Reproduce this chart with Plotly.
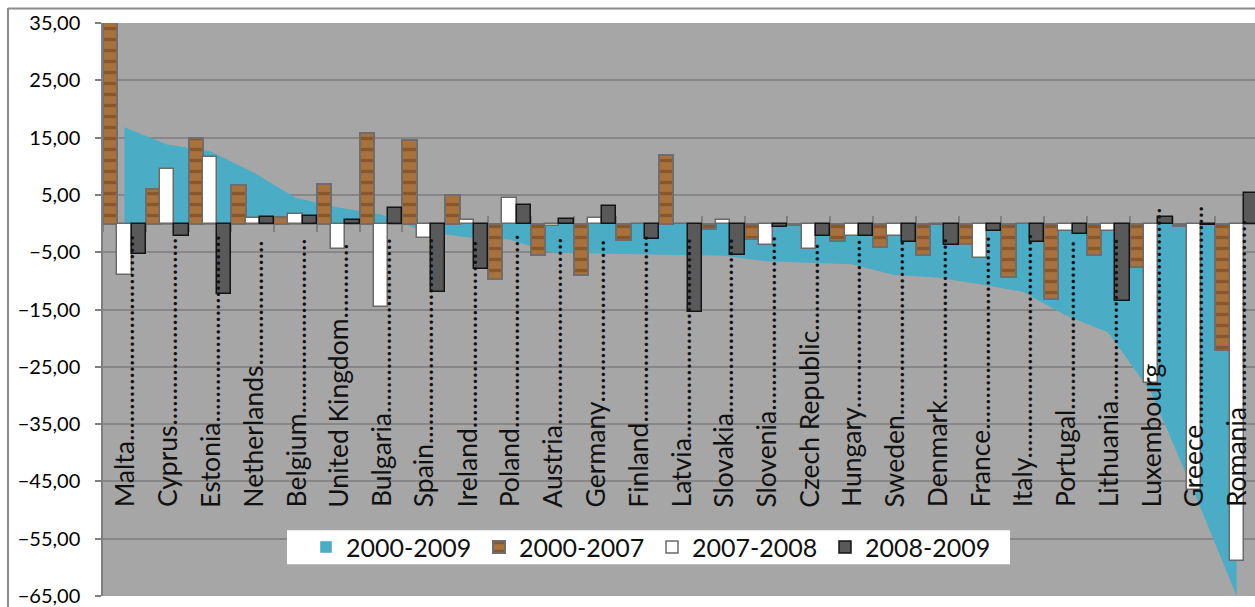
import plotly.graph_objects as go

# EU member states, ordered by the 2000-2009 change
countries = ["Malta", "Cyprus", "Estonia", "Netherlands", "Belgium", "United Kingdom",
             "Bulgaria", "Spain", "Ireland", "Poland", "Austria", "Germany", "Finland",
             "Latvia", "Slovakia", "Slovenia", "Czech Republic", "Hungary", "Sweden",
             "Denmark", "France", "Italy", "Portugal", "Lithuania", "Luxembourg",
             "Greece", "Romania"]

chg_2000_2009 = [16.8, 13.8, 12.6, 9.0, 4.5, 2.8, 1.6, -1.4, -2.4, -2.8, -5.1, -5.2, -5.3,
                 -5.45, -5.6, -6.6, -6.9, -7.1, -9.0, -9.4, -10.6, -11.9, -16.0, -19.0,
                 -29.5, -46.8, -65.0]
chg_2000_2007 = [37.5, 6.1, 14.9, 6.7, 1.1, 6.9, 15.8, 14.5, 4.9, -9.7, -5.45, -9.0, -2.8,
                 11.9, -1.0, -2.7, -0.3, -3.0, -4.1, -5.45, -3.55, -9.3, -13.2, -5.45,
                 -7.6, -0.4, -22.0]
chg_2007_2008 = [-8.9, 9.6, 11.6, 1.0, 1.6, -4.5, -14.5, -2.5, 0.65, 4.4, -0.5, 0.95, -0.1,
                 0.0, 0.65, -3.7, -4.5, -2.2, -2.2, -0.3, -6.0, 0.0, -1.25, -1.35, -27.8,
                 -46.5, -58.9]
chg_2008_2009 = [-5.3, -2.1, -12.3, 1.2, 1.3, 0.6, 2.8, -11.9, -7.9, 3.2, 0.8, 3.1, -2.7,
                 -15.4, -5.45, -0.55, -2.1, -2.1, -3.3, -3.8, -1.35, -3.15, -1.8, -13.5,
                 1.2, -0.2, 5.3]

y_ticks = [35, 25, 15, 5, -5, -15, -25, -35, -45, -55, -65]
series_names = ["2000-2009", "2000-2007", "2007-2008", "2008-2009"]

# ---- layout constants -------------------------------------------------------
W, H = 1255, 607
ML, MR, MT, MB = 103, 0, 23, 8
PW, PH = W - ML - MR, H - MT - MB
CAT_PX = 42.78                      # width of one category slot in pixels
X_RANGE = [-0.5, -0.5 + PW / CAT_PX]
Y_RANGE = [-65, 35]
FONT = "Lato, 'Open Sans', sans-serif"
TEAL = "#4BACC6"
GRID = "#878787"

pos = list(range(len(countries)))


def px_x(px):
    return (px - ML) / PW


def px_y(py):
    return (H - MB - py) / PH


def y_val(py):
    return Y_RANGE[1] - (py - MT) / PH * (Y_RANGE[1] - Y_RANGE[0])


# approximate Lato advance widths (em) used to pad labels with leader dots
LATO_EM = {
    'M': 0.87, 'C': 0.66, 'E': 0.56, 'N': 0.75, 'B': 0.63, 'U': 0.72, 'K': 0.66,
    'S': 0.54, 'I': 0.28, 'P': 0.60, 'A': 0.68, 'G': 0.72, 'F': 0.54, 'L': 0.50,
    'R': 0.62, 'H': 0.75, 'D': 0.74,
    'a': 0.50, 'b': 0.56, 'c': 0.46, 'd': 0.56, 'e': 0.53, 'g': 0.51, 'h': 0.56,
    'i': 0.24, 'k': 0.51, 'l': 0.24, 'm': 0.85, 'n': 0.56, 'o': 0.56, 'p': 0.56,
    'r': 0.37, 's': 0.43, 't': 0.35, 'u': 0.56, 'v': 0.50, 'w': 0.77, 'x': 0.49,
    'y': 0.50, 'z': 0.45, ' ': 0.19, '.': 0.22,
}
LABEL_SIZE = 26.5


def dotted(name, length_px):
    w = sum(LATO_EM.get(c, 0.55) for c in name) * LABEL_SIZE
    n = max(0, round((length_px - w) / (LATO_EM['.'] * LABEL_SIZE)))
    return name + "." * n


fig = go.Figure()

# area series on the base subplot so the bars are painted over it
fig.add_trace(go.Scatter(
    x=pos, y=chg_2000_2009, name=series_names[0], mode="lines",
    line=dict(width=0, color=TEAL), fill="tozeroy", fillcolor=TEAL,
    showlegend=False, hoverinfo="skip", xaxis="x", yaxis="y"))
# legend swatch for the area series
fig.add_trace(go.Bar(
    x=[None], y=[None], name=series_names[0], marker=dict(color=TEAL),
    xaxis="x", yaxis="y"))

fig.add_trace(go.Bar(
    x=pos, y=chg_2000_2007, name=series_names[1], xaxis="x2", yaxis="y",
    marker=dict(color="#A5692F", line=dict(color="#6E6E6E", width=2),
                pattern=dict(shape="-", fgcolor="#6A3D16", bgcolor="#A9713C",
                             size=11, solidity=0.3))))
fig.add_trace(go.Bar(
    x=pos, y=chg_2007_2008, name=series_names[2], xaxis="x2", yaxis="y",
    marker=dict(color="#FFFFFF", line=dict(color="#6A6A6A", width=1.5))))
fig.add_trace(go.Bar(
    x=pos, y=chg_2008_2009, name=series_names[3], xaxis="x2", yaxis="y",
    marker=dict(color="#595959", line=dict(color="#141414", width=1.5))))

# category labels with dotted leaders, reading bottom to top
label_bottom = y_val(512)
leader_end_px = {"Luxembourg": 223, "Greece": 225, "Romania": 233}
annotations = []
for i, name in enumerate(countries):
    top_px = leader_end_px.get(name, 254)
    annotations.append(dict(
        x=i, y=label_bottom, xref="x", yref="y", text=dotted(name, 512 - top_px),
        textangle=-90, showarrow=False, xanchor="center", yanchor="bottom",
        font=dict(family=FONT, size=LABEL_SIZE, color="#111111")))

zero_pos = (0 - Y_RANGE[0]) / (Y_RANGE[1] - Y_RANGE[0])
boundaries = [i + 0.5 for i in range(-1, len(countries))]

shapes = [
    # white panel behind the legend
    dict(type="rect", xref="paper", yref="paper", x0=px_x(287), x1=px_x(1010),
         y0=px_y(567), y1=px_y(533), fillcolor="white", line=dict(width=0),
         layer="above"),
    # chart frame
    dict(type="line", xref="paper", yref="paper", x0=px_x(8), x1=px_x(8),
         y0=px_y(8), y1=px_y(H + 5), line=dict(color="#8C8C8C", width=2)),
    dict(type="line", xref="paper", yref="paper", x0=px_x(8), x1=px_x(W + 5),
         y0=px_y(8.5), y1=px_y(8.5), line=dict(color="#8C8C8C", width=2)),
]

fig.update_layout(
    width=W, height=H,
    margin=dict(l=ML, r=MR, t=MT, b=MB, pad=0),
    paper_bgcolor="white", plot_bgcolor="#A6A6A6",
    barmode="group", bargap=0, bargroupgap=0,
    separators=", ",
    font=dict(family=FONT, color="#111111"),
    xaxis=dict(range=X_RANGE, anchor="free", position=zero_pos, showgrid=False,
               zeroline=False, showline=True, linecolor="#7F7F7F", linewidth=1.5,
               tickmode="array", tickvals=boundaries, ticks="outside", ticklen=8,
               tickwidth=1.5, tickcolor="#7F7F7F", showticklabels=False,
               layer="below traces"),
    xaxis2=dict(range=X_RANGE, overlaying="x", anchor="free", position=zero_pos,
                side="top", showgrid=False, zeroline=False, showline=False,
                tickmode="array", tickvals=boundaries, ticks="outside", ticklen=8,
                tickwidth=1.5, tickcolor="#7F7F7F", showticklabels=False,
                layer="below traces"),
    yaxis=dict(range=Y_RANGE, tickmode="array", tickvals=y_ticks, tickformat=".2f",
               showgrid=True, gridcolor=GRID, gridwidth=1.5, zeroline=False,
               showline=True, linecolor="#7F7F7F", linewidth=1.5,
               ticks="outside", ticklen=6, tickwidth=1.5, tickcolor="#7F7F7F",
               ticklabelstandoff=11, ticklabeloverflow="allow",
               tickfont=dict(family=FONT, size=20, color="#000000")),
    legend=dict(orientation="h", x=px_x(306), xanchor="left",
                y=px_y(550), yanchor="middle", bgcolor="rgba(0,0,0,0)",
                borderwidth=0, entrywidth=128, entrywidthmode="pixels",
                font=dict(family=FONT, size=25, color="#111111"),
                traceorder="normal"),
    annotations=annotations,
    shapes=shapes,
    showlegend=True,
)

fig.write_html("out.html")
